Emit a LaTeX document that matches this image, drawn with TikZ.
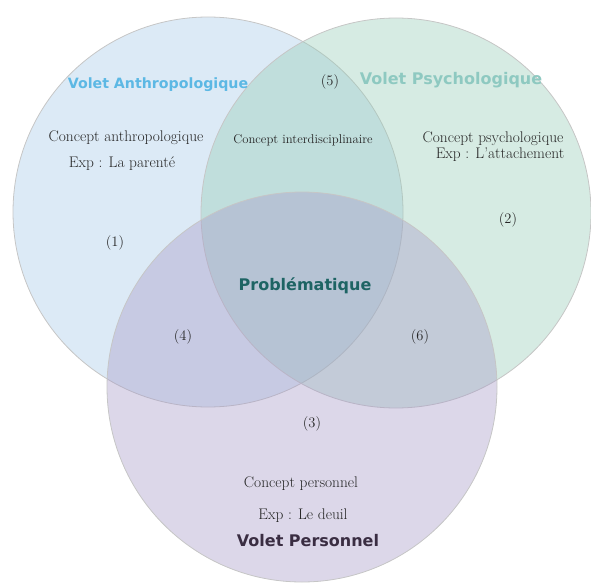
\documentclass[tikz,border=0pt]{standalone}
\usepackage{fontspec}
\newfontfamily\voletfont{DejaVu Sans}

\definecolor{anthroBlue}{RGB}{167,202,232}
\definecolor{psychoGreen}{RGB}{152,204,184}
\definecolor{persoPurple}{RGB}{167,155,200}
\definecolor{anthroText}{RGB}{92,184,228}
\definecolor{psychoText}{RGB}{142,201,193}
\definecolor{probText}{RGB}{29,100,100}
\definecolor{persoText}{RGB}{58,45,66}

\begin{document}
\begin{tikzpicture}[x=1pt, y=-1pt,
  venn/.style = {shape=circle, draw=gray!45, line width=0.8pt,
    fill opacity=0.4, draw opacity=1, minimum size=390pt, inner sep=0pt},
  volet/.style = {font=\voletfont\bfseries\fontsize{16}{18}\selectfont},
  concept/.style = {font=\fontsize{15.4}{17}\selectfont, text=black!85},
  region/.style = {font=\fontsize{14.5}{16}\selectfont, text=black!85}]
  \useasboundingbox (0,0) rectangle (591,586);

  % the three circles
  \node[venn, fill=anthroBlue] (anthro) at (208,212) {};
  \node[venn, fill=psychoGreen] (psycho) at (396,213) {};
  \node[venn, fill=persoPurple] (perso) at (302,387) {};

  % titles
  \node[volet, text=anthroText, font=\voletfont\bfseries\fontsize{14.2}{16}\selectfont]
    (anthroTitle) at (158,85) {Volet Anthropologique};
  \node[volet, text=psychoText] (psychoTitle) at (451,80) {Volet Psychologique};
  \node[volet, text=persoText] (persoTitle) at (308,541) {Volet Personnel};
  \node[volet, text=probText] (prob) at (305,286) {Problématique};

  % concepts
  \node[concept] (anthroConcept) at (126,138) {Concept anthropologique};
  \node[concept] (anthroExp) at (122,164) {Exp : La parenté};
  \node[concept] (psychoConcept) at (493,139) {Concept psychologique};
  \node[concept] (psychoExp) at (500,155) {Exp : L'attachement};
  \node[concept] (persoConcept) at (301,484) {Concept personnel};
  \node[concept] (persoExp) at (303,516) {Exp : Le deuil};
  \node[concept, font=\fontsize{12.7}{14}\selectfont] (inter) at (303,140) {Concept interdisciplinaire};

  % region numbers
  \node[region] (r1) at (115,243) {(1)};
  \node[region] (r2) at (508,220) {(2)};
  \node[region] (r3) at (312,424) {(3)};
  \node[region] (r4) at (183,337) {(4)};
  \node[region] (r5) at (330,82) {(5)};
  \node[region] (r6) at (420,337) {(6)};
\end{tikzpicture}
\end{document}
